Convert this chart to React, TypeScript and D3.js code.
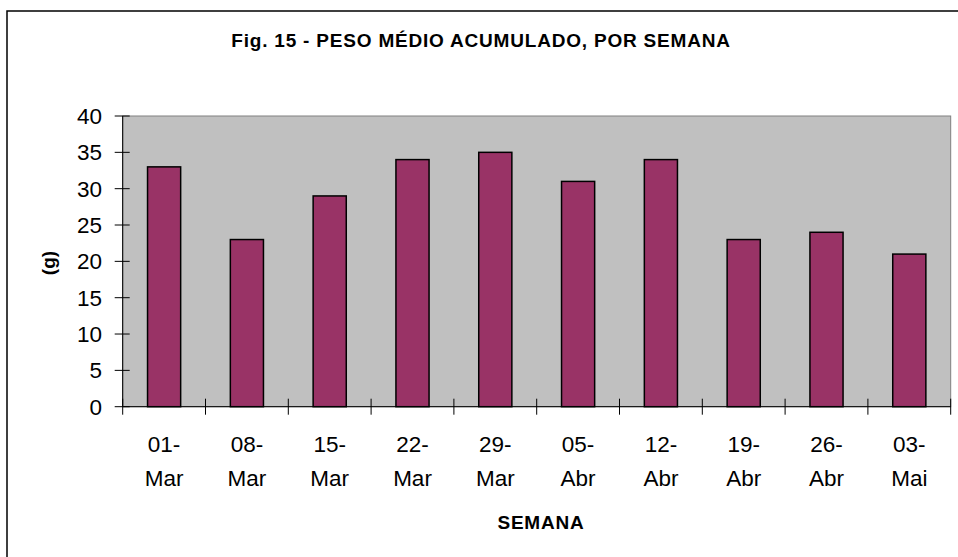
import React from "react";
import * as d3 from "d3";

const categories: string[][] = [
  ["01-", "Mar"], ["08-", "Mar"], ["15-", "Mar"], ["22-", "Mar"], ["29-", "Mar"],
  ["05-", "Abr"], ["12-", "Abr"], ["19-", "Abr"], ["26-", "Abr"], ["03-", "Mai"],
];
const values: number[] = [33, 23, 29, 34, 35, 31, 34, 23, 24, 21];
const yTicks: number[] = [0, 5, 10, 15, 20, 25, 30, 35, 40];
const title = "Fig. 15 - PESO MÉDIO ACUMULADO, POR SEMANA";
const xTitle = "SEMANA";
const yTitle = "(g)";

const W = 958;
const H = 557;
const FONT = "'Liberation Sans', Arial, sans-serif";

export default function App() {
  const left = 122.7, right = 950.7, top = 116, bottom = 406.7;
  const band = d3.scaleBand<number>().domain(d3.range(values.length)).range([left, right]);
  const y = d3.scaleLinear().domain([0, 40]).range([bottom, top]);
  const bw = band.bandwidth();
  const barW = bw / 2.5;
  return (
    <svg width={W} height={H} style={{ position: "absolute", left: 0, top: 0, display: "block" }}>
      <rect x={0} y={0} width={W} height={H} fill="#fff" />
      <rect x={7} y={11} width={W + 20} height={H + 20} fill="none" stroke="#000" strokeWidth={1.5} />
      <text x={481} y={47} textAnchor="middle" fontFamily={FONT} fontWeight="bold" fontSize={19} letterSpacing={0.8}>{title}</text>
      <rect x={left} y={top} width={right - left} height={bottom - top} fill="#c0c0c0" stroke="#808080" strokeWidth={1} />
      {values.map((v, i) => {
        const cx = (band(i) as number) + bw / 2;
        return (
          <rect key={i} x={cx - barW / 2} y={y(v)} width={barW} height={bottom - y(v)}
            fill="#993366" stroke="#000" strokeWidth={1.5} />
        );
      })}
      <line x1={left} x2={left} y1={top} y2={bottom} stroke="#000" strokeWidth={1} />
      <line x1={left} x2={right} y1={bottom} y2={bottom} stroke="#000" strokeWidth={1} />
      {yTicks.map((t) => (
        <g key={t}>
          <line x1={left - 8} x2={left + 7} y1={y(t)} y2={y(t)} stroke="#000" strokeWidth={1} />
          <text x={102} y={y(t) + 8} textAnchor="end" fontFamily={FONT} fontSize={22.5}>{t}</text>
        </g>
      ))}
      {d3.range(values.length + 1).map((i) => {
        const xx = i < values.length ? (band(i) as number) : right;
        return <line key={i} x1={xx} x2={xx} y1={bottom - 8} y2={bottom + 8} stroke="#000" strokeWidth={1} />;
      })}
      {categories.map((c, i) => {
        const cx = (band(i) as number) + bw / 2;
        return (
          <text key={i} x={cx} textAnchor="middle" fontFamily={FONT} fontSize={22.5}>
            <tspan x={cx} y={451.5}>{c[0]}</tspan>
            <tspan x={cx} y={486}>{c[1]}</tspan>
          </text>
        );
      })}
      <text x={541} y={529} textAnchor="middle" fontFamily={FONT} fontWeight="bold" fontSize={19} letterSpacing={0.8}>{xTitle}</text>
      <text transform="translate(55,263) rotate(-90)" textAnchor="middle" fontFamily={FONT} fontWeight="bold" fontSize={19}>{yTitle}</text>
    </svg>
  );
}
